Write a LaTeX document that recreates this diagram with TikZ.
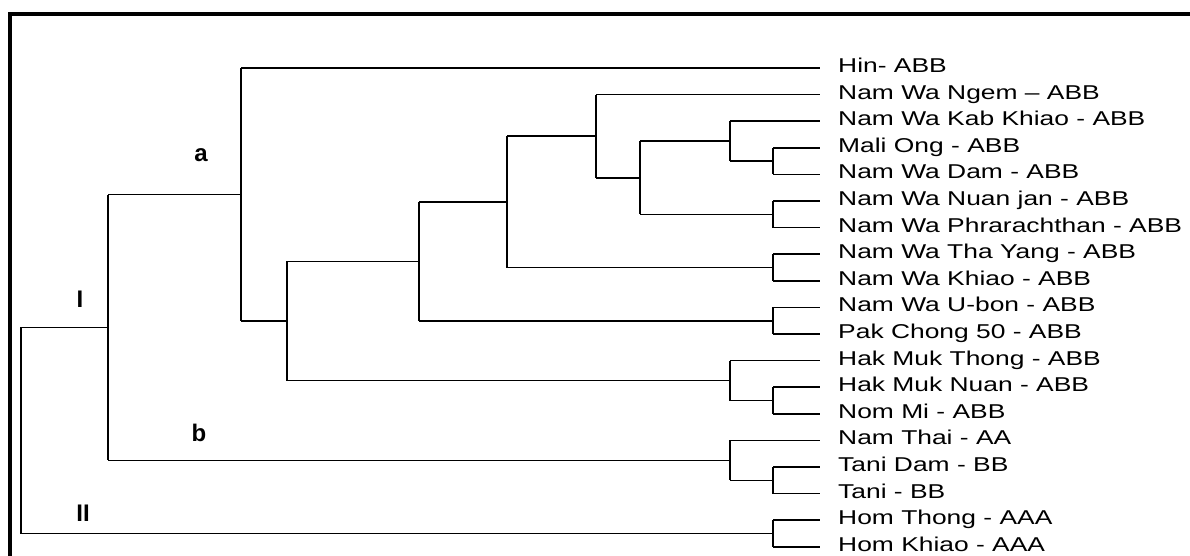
\documentclass[tikz,border=0pt]{standalone}
\usepackage{fontspec}
\setmainfont[FakeStretch=1.32]{Liberation Sans}
\newfontfamily\labfont{Liberation Sans}
\begin{document}
\begin{tikzpicture}[x=1pt,y=-1pt,
  hl/.style={line width=1.6pt},
  vl/.style={line width=2.8pt},
  frame/.style={line width=4.5pt, line join=miter},
  leaf/.style={anchor=base west, inner sep=0pt, font=\fontsize{20}{22}\selectfont},
  grp/.style={font=\labfont\bfseries\fontsize{24}{26}\selectfont, inner sep=0pt}]
\useasboundingbox (0,0) rectangle (1190,555);
\draw[frame] (10,560) -- (10,14) -- (1195,14);
% leaves
\foreach \t [count=\k] in {Hin- ABB, Nam Wa Ngem – ABB, Nam Wa Kab Khiao - ABB, Mali Ong - ABB, Nam Wa Dam - ABB, Nam Wa Nuan jan - ABB, Nam Wa Phrarachthan - ABB, Nam Wa Tha Yang - ABB, Nam Wa Khiao - ABB, Nam Wa U-bon - ABB, Pak Chong 50 - ABB, Hak Muk Thong - ABB, Hak Muk Nuan - ABB, Nom Mi - ABB, Nam Thai - AA, Tani Dam - BB, Tani - BB, Hom Thong - AAA, Hom Khiao - AAA}{
  \coordinate (l\k) at (820,{68+(\k-1)*26.6});
  \node[leaf] (t\k) at ([shift={(18,4.5)}]l\k) {\t};
}
% internal nodes
\coordinate (n45) at (773,161.1);
\coordinate (n345) at (730,141.15);
\coordinate (n67) at (773,214.3);
\coordinate (nB) at (640,177.7);
\coordinate (nC) at (596,136.2);
\coordinate (n89) at (773,267.5);
\coordinate (nD) at (507,201.8);
\coordinate (n1011) at (773,320.7);
\coordinate (nE) at (419,261.3);
\coordinate (n1314) at (773,400.5);
\coordinate (n1214) at (730,380.5);
\coordinate (nF) at (287,320.9);
\coordinate (nA) at (241,194.5);
\coordinate (n1617) at (773,480.3);
\coordinate (nb) at (730,460.3);
\coordinate (nI) at (108,327.4);
\coordinate (n1819) at (773,533.5);
\coordinate (root) at (21,430.5);
\foreach \p/\a/\b in {n45/l4/l5, n345/l3/n45, n67/l6/l7, nB/n345/n67, nC/l2/nB, n89/l8/l9, nD/nC/n89, n1011/l10/l11, nE/nD/n1011, n1314/l13/l14, n1214/l12/n1314, nF/nE/n1214, nA/l1/nF, n1617/l16/l17, nb/l15/n1617, nI/nA/nb, n1819/l18/l19, root/nI/n1819}{
  \draw[hl] (\p |- \a) -- (\a);
  \draw[hl] (\p |- \b) -- (\b);
  \draw[vl] (\p |- \a) -- (\p |- \b);
}
% group labels
\node[grp] (la) at (201,155) {a};
\node[grp] (lb) at (199,433) {b};
\node[grp] (lI) at (80,299) {I};
\node[grp] (lII) at (83,513) {II};
\end{tikzpicture}
\end{document}
